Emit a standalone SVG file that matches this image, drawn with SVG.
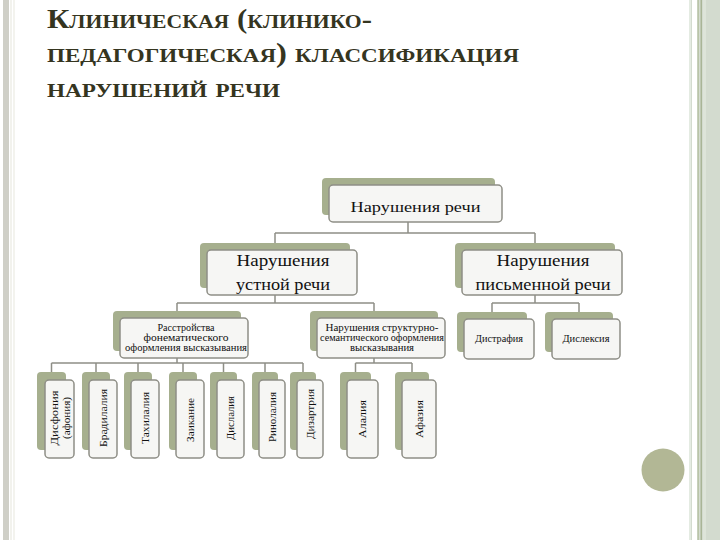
<svg xmlns="http://www.w3.org/2000/svg" width="720" height="540" viewBox="0 0 720 540">
<style>
.sh{fill:#a6af8e;}
.fr{fill:#f6f6f4;stroke:#8e8e86;stroke-width:1.5;}
.t{font-family:'Liberation Serif','DejaVu Serif',serif;fill:#111;text-anchor:middle;}
.title{font-family:'Liberation Serif','DejaVu Serif',serif;fill:#35351f;font-variant:small-caps;font-size:27px;font-weight:bold;}
.c{stroke:#8e8e86;stroke-width:1.5;fill:none;}
</style>
<rect width="720" height="540" fill="#ffffff"/>
<rect x="3" y="0" width="6" height="540" fill="#cfcfc7"/>
<rect x="10.5" y="0" width="1" height="540" fill="#e6e6dc"/>
<rect x="13.5" y="0" width="1" height="540" fill="#e8e8de"/>
<rect x="689" y="0" width="31" height="540" fill="#d3dbcf"/>
<rect x="689" y="0" width="2" height="540" fill="#e4ebe2"/>
<rect x="692" y="0" width="5" height="540" fill="#ffffff"/>
<rect x="697.5" y="0" width="1.5" height="540" fill="#b9c4a8"/>
<rect x="700.5" y="0" width="1.5" height="540" fill="#a9b597"/>
<rect x="703" y="0" width="3" height="540" fill="#dde4d9"/>
<g id="title">
<text class="title" x="47" y="28" textLength="325" lengthAdjust="spacingAndGlyphs">Клиническая (клинико-</text>
<text class="title" x="47" y="62" textLength="472" lengthAdjust="spacingAndGlyphs">педагогическая) классификация</text>
<text class="title" x="47" y="97" textLength="233" lengthAdjust="spacingAndGlyphs">нарушений речи</text>
</g>
<g id="connectors" class="c">
<path d="M408 222V233M275 233H535M275 233V243M535 233V243"/>
<path d="M275 295V303M177 303H374M177 303V311M374 303V311"/>
<path d="M535 295V303M492 303H579M492 303V312M579 303V312"/>
<path d="M177 358V363M51.5 363H303M51.5 363V372M96 363V372M138 363V372M183 363V372M223.5 363V372M265 363V372M303 363V372"/>
<path d="M374 358V363M355.5 363H412M355.5 363V372M412 363V372"/>
</g>
<g id="n-root">
<rect class="sh" x="322" y="178" width="173" height="37" rx="4"/>
<rect class="fr" x="329" y="185" width="173" height="37" rx="4"/>
<text class="t" x="415.5" y="212" font-size="15" textLength="130" lengthAdjust="spacingAndGlyphs">Нарушения речи</text>
</g>
<g id="n-oral">
<rect class="sh" x="200" y="243" width="150" height="45" rx="4"/>
<rect class="fr" x="207" y="250" width="150" height="45" rx="4"/>
<text class="t" x="283" y="266" font-size="17" textLength="93" lengthAdjust="spacingAndGlyphs">Нарушения</text>
<text class="t" x="283" y="290" font-size="17" textLength="94" lengthAdjust="spacingAndGlyphs">устной речи</text>
</g>
<g id="n-written">
<rect class="sh" x="455" y="243" width="160" height="45" rx="4"/>
<rect class="fr" x="462" y="250" width="160" height="45" rx="4"/>
<text class="t" x="543" y="266" font-size="17" textLength="93" lengthAdjust="spacingAndGlyphs">Нарушения</text>
<text class="t" x="543" y="290" font-size="17" textLength="135" lengthAdjust="spacingAndGlyphs">письменной речи</text>
</g>
<g id="n-phon">
<rect class="sh" x="113" y="311" width="128" height="40" rx="4"/>
<rect class="fr" x="120" y="318" width="128" height="40" rx="4"/>
<text class="t" x="186" y="331" font-size="10" textLength="57" lengthAdjust="spacingAndGlyphs">Расстройства</text>
<text class="t" x="186" y="341" font-size="10" textLength="85" lengthAdjust="spacingAndGlyphs">фонематического</text>
<text class="t" x="186" y="351" font-size="10" textLength="122" lengthAdjust="spacingAndGlyphs">оформления высказывания</text>
</g>
<g id="n-struct">
<rect class="sh" x="310" y="311" width="128" height="40" rx="4"/>
<rect class="fr" x="317" y="318" width="128" height="40" rx="4"/>
<text class="t" x="382" y="331" font-size="10" textLength="113" lengthAdjust="spacingAndGlyphs">Нарушения структурно-</text>
<text class="t" x="382" y="341" font-size="10" textLength="124" lengthAdjust="spacingAndGlyphs">семантического оформления</text>
<text class="t" x="382" y="351" font-size="10" textLength="64" lengthAdjust="spacingAndGlyphs">высказывания</text>
</g>
<g id="n-dysgraphia">
<rect class="sh" x="457" y="312" width="70" height="40" rx="4"/>
<rect class="fr" x="464" y="319" width="70" height="40" rx="4"/>
<text class="t" x="499" y="342" font-size="10" textLength="48" lengthAdjust="spacingAndGlyphs">Дистрафия</text>
</g>
<g id="n-dyslexia">
<rect class="sh" x="545" y="312" width="68" height="40" rx="4"/>
<rect class="fr" x="552" y="319" width="68" height="40" rx="4"/>
<text class="t" x="586" y="342" font-size="10" textLength="47" lengthAdjust="spacingAndGlyphs">Дислексия</text>
</g>
<g id="n-dysphonia">
<rect class="sh" x="37" y="372" width="29" height="78" rx="4"/>
<rect class="fr" x="45" y="380" width="29" height="78" rx="4"/>
<g transform="translate(59.5,418) rotate(-90)">
<text class="t" x="0" y="-1.5" font-size="10" textLength="55" lengthAdjust="spacingAndGlyphs">Дисфония</text>
<text class="t" x="0" y="10" font-size="10" textLength="42" lengthAdjust="spacingAndGlyphs">(афония)</text>
</g>
</g>
<g id="n-brady">
<rect class="sh" x="82" y="372" width="28" height="78" rx="4"/>
<rect class="fr" x="89" y="380" width="28" height="78" rx="4"/>
<text class="t" transform="translate(103,418) rotate(-90)" x="0" y="3.5" font-size="10" textLength="58" lengthAdjust="spacingAndGlyphs">Брадилалия</text>
</g>
<g id="n-tachy">
<rect class="sh" x="124" y="372" width="28" height="78" rx="4"/>
<rect class="fr" x="131" y="380" width="28" height="78" rx="4"/>
<text class="t" transform="translate(145,418) rotate(-90)" x="0" y="3.5" font-size="10" textLength="52" lengthAdjust="spacingAndGlyphs">Тахилалия</text>
</g>
<g id="n-stutter">
<rect class="sh" x="169" y="372" width="28" height="78" rx="4"/>
<rect class="fr" x="176" y="380" width="28" height="78" rx="4"/>
<text class="t" transform="translate(190,420) rotate(-90)" x="0" y="3.5" font-size="10" textLength="44" lengthAdjust="spacingAndGlyphs">Заикание</text>
</g>
<g id="n-dyslalia">
<rect class="sh" x="210" y="372" width="27" height="78" rx="4"/>
<rect class="fr" x="217" y="380" width="27" height="78" rx="4"/>
<text class="t" transform="translate(230.5,418) rotate(-90)" x="0" y="3.5" font-size="10" textLength="44" lengthAdjust="spacingAndGlyphs">Дислалия</text>
</g>
<g id="n-rhino">
<rect class="sh" x="252" y="372" width="26" height="78" rx="4"/>
<rect class="fr" x="259" y="380" width="26" height="78" rx="4"/>
<text class="t" transform="translate(272,417) rotate(-90)" x="0" y="3.5" font-size="10" textLength="50" lengthAdjust="spacingAndGlyphs">Ринолалия</text>
</g>
<g id="n-dysarthria">
<rect class="sh" x="290" y="372" width="26" height="78" rx="4"/>
<rect class="fr" x="297" y="380" width="26" height="78" rx="4"/>
<text class="t" transform="translate(310,414) rotate(-90)" x="0" y="3.5" font-size="10" textLength="50" lengthAdjust="spacingAndGlyphs">Дизартрия</text>
</g>
<g id="n-alalia">
<rect class="sh" x="340" y="372" width="31" height="78" rx="4"/>
<rect class="fr" x="347" y="380" width="31" height="78" rx="4"/>
<text class="t" transform="translate(362.5,419) rotate(-90)" x="0" y="3.5" font-size="10" textLength="38" lengthAdjust="spacingAndGlyphs">Алалия</text>
</g>
<g id="n-aphasia">
<rect class="sh" x="395" y="372" width="34" height="78" rx="4"/>
<rect class="fr" x="402" y="380" width="34" height="78" rx="4"/>
<text class="t" transform="translate(419,419) rotate(-90)" x="0" y="3.5" font-size="10" textLength="38" lengthAdjust="spacingAndGlyphs">Афазия</text>
</g>
<circle cx="663" cy="470" r="21.5" fill="#b2b795"/>
</svg>
